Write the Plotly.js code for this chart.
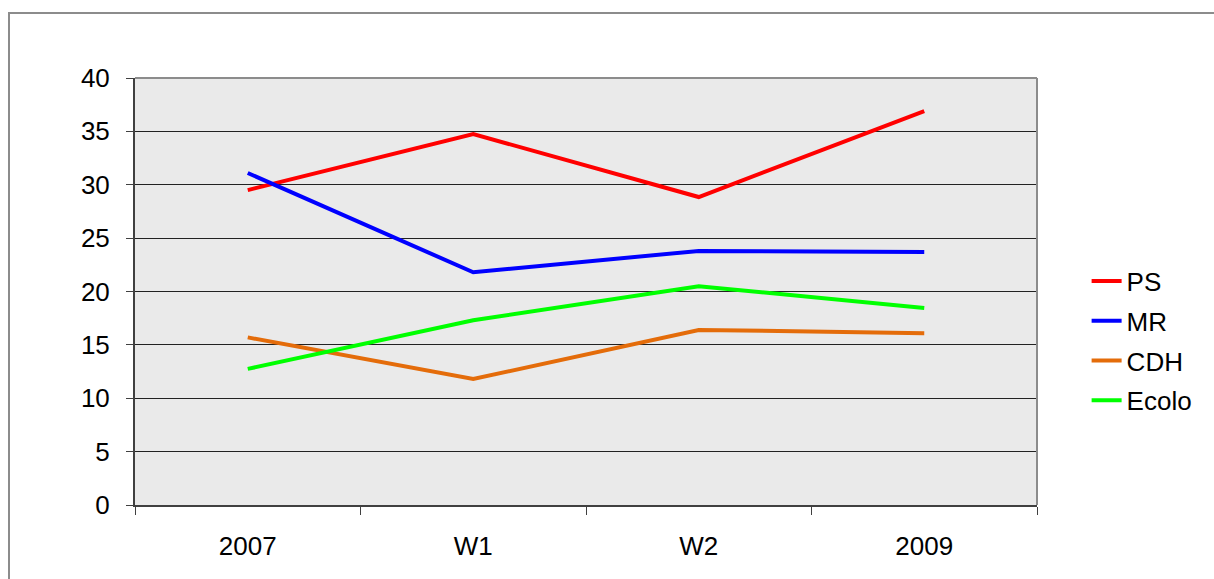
<!DOCTYPE html>
<html>
<head>
<meta charset="utf-8">
<script src="https://cdn.plot.ly/plotly-3.0.1.min.js"></script>
<style>
  html, body { margin: 0; padding: 0; background: #fff; }
  #chart { width: 1214px; height: 579px; position: relative; }
  #frame { position: absolute; left: 8px; top: 12px; width: 1214px; height: 600px;
           border-left: 2px solid #8c8c8c; border-top: 2px solid #8c8c8c; pointer-events: none; }
</style>
</head>
<body>
<div id="chart"></div>
<div id="frame"></div>
<script>
const categories = ["2007", "W1", "W2", "2009"];
const seriesNames = ["PS", "MR", "CDH", "Ecolo"];
const PS    = [29.5, 34.75, 28.85, 36.9];
const MR    = [31.1, 21.8, 23.8, 23.7];
const CDH   = [15.7, 11.8, 16.4, 16.1];
const Ecolo = [12.75, 17.3, 20.5, 18.45];
const yTicks = [0, 5, 10, 15, 20, 25, 30, 35, 40];

const values = [PS, MR, CDH, Ecolo];
const colors = ["#ff0000", "#0000ff", "#e46c0a", "#00ff00"];

const traces = seriesNames.map((name, i) => ({
  type: "scatter",
  mode: "lines",
  name: name,
  legendgroup: name,
  x: categories,
  y: values[i],
  line: { color: colors[i], width: 4 }
}));

const layout = {
  width: 1214,
  height: 579,
  margin: { l: 135, r: 177, t: 78, b: 74 },
  paper_bgcolor: "#ffffff",
  plot_bgcolor: "#eaeaea",
  font: { family: "Liberation Sans, Arial, sans-serif", size: 26, color: "#000" },
  showlegend: true,
  legend: {
    x: 1.055, xanchor: "left",
    y: 0.384, yanchor: "middle",
    bgcolor: "rgba(0,0,0,0)",
    borderwidth: 0,
    tracegroupgap: 3,
    font: { size: 26, color: "#000" }
  },
  xaxis: {
    type: "category",
    range: [-0.5, 3.5],
    tickson: "boundaries",
    ticks: "outside",
    ticklen: 8,
    tickwidth: 1,
    tickcolor: "#404040",
    showgrid: false,
    showline: true,
    linecolor: "#404040",
    linewidth: 2,
    ticklabelstandoff: 17,
    fixedrange: true,
    zeroline: false
  },
  yaxis: {
    range: [0, 40],
    tickvals: yTicks,
    ticktext: yTicks.map(String),
    ticks: "outside",
    ticklen: 7,
    tickwidth: 1,
    tickcolor: "#404040",
    showgrid: true,
    gridcolor: "#222222",
    gridwidth: 1,
    showline: true,
    linecolor: "#404040",
    linewidth: 2,
    zeroline: false,
    ticklabelstandoff: 11,
    fixedrange: true
  },
  shapes: [
    { type: "line", xref: "paper", yref: "paper", x0: 0, x1: 1, y0: 1, y1: 1,
      line: { color: "#8c8c8c", width: 2 } },
    { type: "line", xref: "paper", yref: "paper", x0: 1, x1: 1, y0: 0, y1: 1,
      line: { color: "#8c8c8c", width: 2 } }
  ]
};

Plotly.newPlot("chart", traces, layout, { displayModeBar: false, staticPlot: true });
</script>
</body>
</html>
